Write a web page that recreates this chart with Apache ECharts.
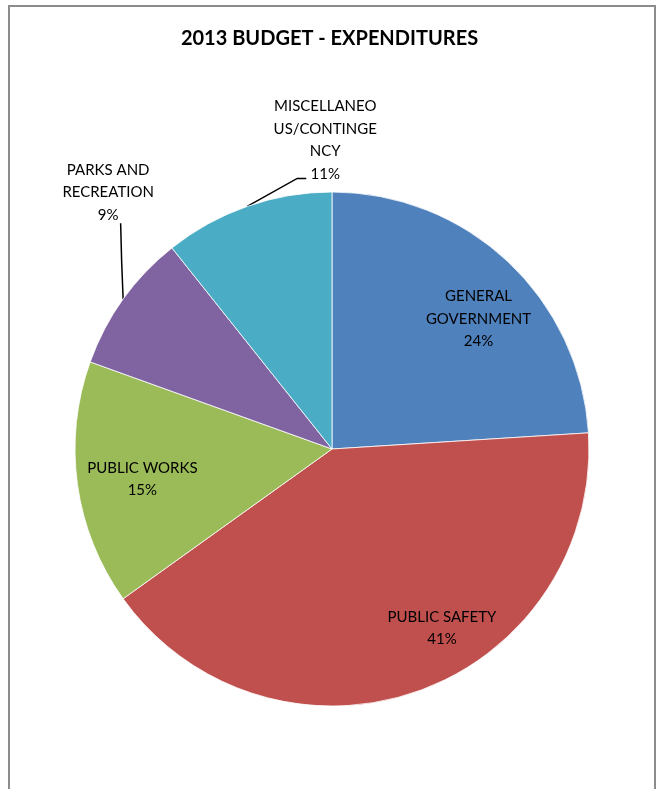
<!DOCTYPE html>
<html>
<head>
<meta charset="utf-8">
<script src="https://cdn.jsdelivr.net/npm/echarts@6/dist/echarts.min.js"></script>
<style>
  html, body { margin: 0; padding: 0; background: #fff; overflow: hidden; }
  #frame { position: absolute; left: 8px; top: 5px; width: 648px; height: 820px; border: 2px solid #8c8c8c; box-sizing: border-box; }
  #chart { position: absolute; left: 0; top: 0; width: 659px; height: 789px; }
</style>
</head>
<body>
<div id="frame"></div>
<div id="chart"></div>
<script>
const categories = ['GENERAL GOVERNMENT', 'PUBLIC SAFETY', 'PUBLIC WORKS', 'PARKS AND RECREATION', 'MISCELLANEOUS/CONTINGENCY'];
const labelTexts = ['GENERAL\nGOVERNMENT', 'PUBLIC SAFETY', 'PUBLIC WORKS', 'PARKS AND\nRECREATION', 'MISCELLANEO\nUS/CONTINGE\nNCY'];
const values = [24.0, 41.1, 15.4, 8.8, 10.7];
const colors = ['#4F81BD', '#C0504D', '#9BBB59', '#8064A2', '#4BACC6'];
const insideIdx = [0, 1, 2];

const chart = echarts.init(document.getElementById('chart'), null, { renderer: 'canvas' });

const labelFont = { fontFamily: 'Lato', fontSize: 15, color: '#000', lineHeight: 22.5, align: 'center', overflow: 'none' };

const mainData = categories.map((c, i) => ({
  name: c,
  value: values[i],
  itemStyle: { color: colors[i] },
  label: { show: insideIdx.indexOf(i) < 0 },
  labelLine: { show: insideIdx.indexOf(i) < 0 }
}));

const ghostData = categories.map((c, i) => ({
  name: c,
  value: values[i],
  label: { show: insideIdx.indexOf(i) >= 0 }
}));

chart.setOption({
  animation: false,
  title: {
    text: '2013 BUDGET - EXPENDITURES',
    left: 'center',
    top: 24,
    textStyle: { fontFamily: 'Lato', fontWeight: 'bold', fontSize: 20, color: '#000' }
  },
  series: [
    {
      type: 'pie',
      center: [332, 449],
      radius: [0, 257],
      startAngle: 90,
      clockwise: true,
      percentPrecision: 0,
      silent: true,
      itemStyle: { borderColor: '#fff', borderWidth: 0.8 },
      label: Object.assign({
        position: 'outside',
        formatter: p => labelTexts[p.dataIndex] + '\n' + p.percent + '%'
      }, labelFont),
      labelLine: { length: 20, length2: 10, lineStyle: { color: '#000', width: 1.5 } },
      labelLayout: function (p) {
        const a = p.labelLinePoints && p.labelLinePoints[0];
        if (!a) return {};
        if (p.dataIndex === 4) {
          return {
            x: a[0] + 78, y: a[1] - 66, align: 'center', verticalAlign: 'middle',
            labelLinePoints: [[a[0], a[1]], [a[0] + 50, a[1] - 28], [a[0] + 59, a[1] - 28]]
          };
        }
        if (p.dataIndex === 3) {
          return {
            x: a[0] - 15, y: a[1] - 107, align: 'center', verticalAlign: 'middle',
            labelLinePoints: [[a[0], a[1]], [a[0] - 1.5, a[1] - 38], [a[0] - 2.5, a[1] - 76]]
          };
        }
        return {};
      },
      data: mainData
    },
    {
      type: 'pie',
      center: [332, 449],
      radius: [130, 257],
      startAngle: 90,
      clockwise: true,
      percentPrecision: 0,
      silent: true,
      itemStyle: { color: 'rgba(0,0,0,0)' },
      label: Object.assign({
        position: 'inside',
        formatter: p => labelTexts[p.dataIndex] + '\n' + p.percent + '%'
      }, labelFont),
      labelLine: { show: false },
      labelLayout: function (p) {
        if (p.dataIndex === 0) return { dx: 12, dy: 13 };
        if (p.dataIndex === 1) return { dx: 44, dy: -6 };
        if (p.dataIndex === 2) return { dx: 5, dy: 3 };
        return {};
      },
      data: ghostData
    }
  ]
});
</script>
</body>
</html>
